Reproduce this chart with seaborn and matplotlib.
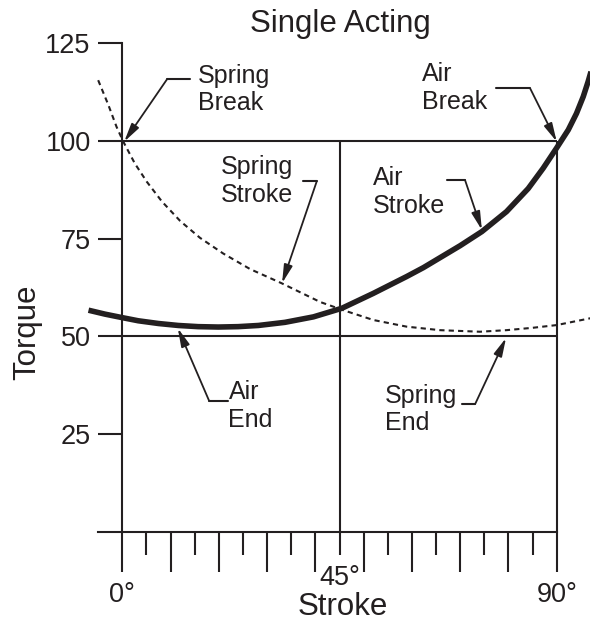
import numpy as np
import pandas as pd
import seaborn as sns
import matplotlib.pyplot as plt
from matplotlib.ticker import FixedLocator, FuncFormatter

# =============================================================================
# values
air_stroke = [-7.0, -3.6, 0.0, 3.3, 7.5, 11.6, 15.7, 19.9, 24.0, 28.2, 33.7,
              39.6, 45.5, 52.0, 58.9, 62.4, 66.2, 70.0, 74.5, 79.6, 84.1, 87.2,
              90.0, 92.4, 94.1, 95.5, 96.5, 97.3]
air_torque = [56.7, 55.7, 54.8, 54.0, 53.3, 52.8, 52.5, 52.4, 52.5, 52.8, 53.6,
              55.0, 57.2, 61.0, 65.3, 67.6, 70.4, 73.2, 76.8, 81.9, 87.8, 93.0,
              98.2, 102.8, 107.0, 111.3, 115.1, 118.5]
spring_stroke = [-5.0, -2.9, -1.2, 0.2, 2.6, 5.1, 8.2, 12.0, 16.1, 20.9, 26.5,
                 33.0, 41.0, 45.8, 52.0, 58.9, 65.8, 74.1, 79.6, 85.0, 90.0, 97.2]
spring_torque = [115.5, 109.2, 103.6, 99.8, 94.2, 89.5, 84.5, 79.5, 75.2, 71.2,
                 67.2, 63.6, 58.8, 56.7, 54.2, 52.5, 51.6, 51.2, 51.6, 52.2,
                 52.9, 54.7]

torque_ticks = [25, 50, 75, 100, 125]
stroke_major = list(range(0, 91, 10))
stroke_minor = list(range(5, 90, 10))
stroke_labels = {0: '0°', 45: '45°', 90: '90°'}
grid_torque = [50, 100]
grid_stroke = [45, 90]

# callouts: text, text anchor, leader start, elbow, arrow tip
callouts = [
    ('Spring\nBreak', (15.7, 113.1), (14.0, 115.8), (9.3, 115.8), (0.4, 99.8)),
    ('Spring\nStroke', (20.4, 89.7), (37.4, 89.7), (40.3, 89.7), (33.1, 63.6)),
    ('Air\nStroke', (52.0, 86.9), (67.2, 90.0), (71.0, 90.0), (74.5, 77.2)),
    ('Air\nBreak', (62.0, 113.5), (77.5, 113.4), (84.5, 113.4), (90.0, 99.8)),
    ('Air\nEnd', (22.0, 32.2), (21.9, 33.5), (18.0, 33.5), (11.5, 52.1)),
    ('Spring\nEnd', (54.4, 31.3), (70.4, 32.7), (73.1, 32.7), (79.5, 49.6)),
]

# =============================================================================
sns.set_theme(style='white')
plt.rcParams['font.family'] = ['Liberation Sans', 'DejaVu Sans']
ink = '#231f20'

fig = plt.figure(figsize=(5.9, 6.25), dpi=100)
ax = fig.add_axes([0, 0, 1, 1])
ax.set_xlim(-25.34, 96.9)
ax.set_ylim(-23.77, 136.0)

air = pd.DataFrame({'stroke': air_stroke, 'torque': air_torque})
spring = pd.DataFrame({'stroke': spring_stroke, 'torque': spring_torque})

# frame lines
ax.hlines(grid_torque, 0, 90, color=ink, lw=1.5)
ax.vlines(grid_stroke, 0, 100, color=ink, lw=1.5)

sns.lineplot(data=spring, x='stroke', y='torque', ax=ax, sort=False,
             color=ink, lw=1.5, linestyle=(0, (2.5, 2)))
sns.lineplot(data=air, x='stroke', y='torque', ax=ax, sort=False,
             color=ink, lw=4, solid_capstyle='butt', solid_joinstyle='round')

for label, txy, start, elbow, tip in callouts:
    ax.plot([start[0], elbow[0]], [start[1], elbow[1]], color=ink, lw=1.5)
    ax.annotate('', xy=tip, xytext=elbow,
                arrowprops=dict(arrowstyle='-|>,head_length=1.1,head_width=0.26',
                                mutation_scale=10, lw=1.3, color=ink,
                                shrinkA=0, shrinkB=0))
    ax.text(txy[0], txy[1], label, ha='left', va='center', fontsize=18, color=ink)

# axes
for side in ['top', 'right']:
    ax.spines[side].set_visible(False)
ax.spines['left'].set_position(('data', 0))
ax.spines['left'].set_bounds(0, 125)
ax.spines['bottom'].set_position(('data', 0))
ax.spines['bottom'].set_bounds(-5, 90)
for side in ['left', 'bottom']:
    ax.spines[side].set_linewidth(1.5)
    ax.spines[side].set_color(ink)

ax.set_yticks(torque_ticks)
ax.tick_params(axis='y', left=True, direction='out', length=17.3, width=1.5,
               pad=5.5, labelsize=19.5, color=ink, labelcolor=ink)

ax.xaxis.set_major_locator(FixedLocator(stroke_major))
ax.xaxis.set_minor_locator(FixedLocator(stroke_minor))
fmt = FuncFormatter(lambda v, p: stroke_labels.get(int(round(v)), ''))
ax.xaxis.set_major_formatter(fmt)
ax.xaxis.set_minor_formatter(fmt)
ax.tick_params(axis='x', which='both', bottom=True, direction='out', width=1.5,
               pad=7.5, labelsize=19.5, color=ink, labelcolor=ink)
ax.tick_params(axis='x', which='major', length=28.8)
ax.tick_params(axis='x', which='minor', length=16.6)

ax.set_xlabel('Stroke', fontsize=22.5, color=ink)
ax.xaxis.set_label_coords(45.6, -21.3, transform=ax.transData)
ax.xaxis.label.set_va('baseline')
ax.set_ylabel('Torque', fontsize=22.5, color=ink)
ax.yaxis.set_label_coords(-18.1, 51.0, transform=ax.transData)
ax.yaxis.label.set_va('baseline')

ax.text(45.2, 127.9, 'Single Acting', ha='center', va='baseline',
        fontsize=22.5, color=ink)

plt.savefig('out.png', dpi=100)
